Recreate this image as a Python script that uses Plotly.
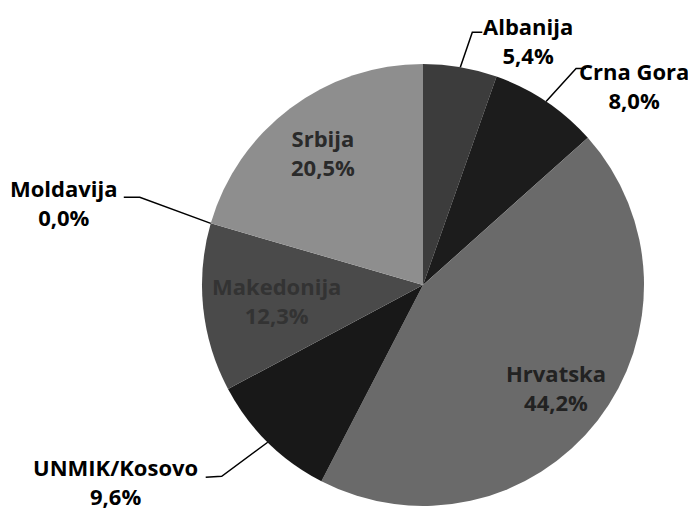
import math
import plotly.graph_objects as go

# ---- data ----
labels = ["Albanija", "Crna Gora", "Hrvatska", "UNMIK/Kosovo", "Makedonija", "Moldavija", "Srbija"]
values = [5.4, 8.0, 44.2, 9.6, 12.3, 0.0, 20.5]
pct_text = ["5,4%", "8,0%", "44,2%", "9,6%", "12,3%", "0,0%", "20,5%"]

# ---- style ----
colors = ["#3c3c3c", "#1c1c1c", "#6a6a6a", "#181818", "#4a4a4a", "#555555", "#8e8e8e"]
OFF = 8                      # page body margin
W, H = 688, 504
L, R, T, B = 194, 52, 56, 6
pw, ph = W - L - R, H - T - B
CX, CY = OFF + L + pw / 2, OFF + T + ph / 2   # page coordinates
RAD = min(pw, ph) / 2
FONT = "Open Sans"
FS = 22
HALF_LINE = 14.5             # half the line height of a two-line label

# inside labels: radial fraction, text colour
inside = {
    "Hrvatska": (0.76, "#222222"),
    "Makedonija": (0.665, "#333333"),
    "Srbija": (0.75, "#2a2a2a"),
}
# outside labels: elbow offset, end offset, first-line offset (from slice edge)
outside = {
    "Albanija": ((12, -35), (22, -35), (68, -41)),
    "Crna Gora": ((30, -33), (40, -33), (88, -30)),
    "Moldavija": ((-71, -26), (-87, -26), (-147, -35)),
    "UNMIK/Kosovo": ((-46, 34), (-62, 35), (-152, 25)),
}


def px(x):
    return (x - OFF - L) / pw


def py(y):
    return (H - B - (y - OFF)) / ph


fig = go.Figure(go.Pie(
    labels=labels, values=values, sort=False, direction="clockwise", rotation=0,
    marker=dict(colors=colors, line=dict(width=0)),
    textinfo="none", hoverinfo="label+percent", showlegend=False,
))

total = sum(values)
cum = 0.0
annotations, shapes = [], []
for lab, v, pt in zip(labels, values, pct_text):
    mid = (cum + v / 2) / total * 2 * math.pi
    cum += v
    s, c = math.sin(mid), math.cos(mid)
    if lab in inside:
        frac, col = inside[lab]
        x = CX + frac * RAD * s
        y = CY - frac * RAD * c
    elif lab in outside:
        (ex, ey), (nx, ny), (tx, ty) = outside[lab]
        col = "black"
        x0 = CX + RAD * s
        y0 = CY - RAD * c
        path = "M {} {} L {} {} L {} {}".format(px(x0), py(y0), px(x0 + ex), py(y0 + ey),
                                               px(x0 + nx), py(y0 + ny))
        shapes.append(dict(type="path", path=path, xref="paper", yref="paper",
                           line=dict(color="black", width=1.5)))
        x = x0 + tx
        y = y0 + ty + HALF_LINE
    else:
        continue
    annotations.append(dict(x=px(x), y=py(y), xref="paper", yref="paper",
                            text="{}<br>{}".format(lab, pt),
                            showarrow=False, xanchor="center", yanchor="middle", align="center",
                            font=dict(family=FONT, size=FS, color=col, weight="bold")))

fig.update_layout(
    width=W, height=H, margin=dict(l=L, r=R, t=T, b=B),
    paper_bgcolor="white", plot_bgcolor="white",
    annotations=annotations, shapes=shapes,
)
fig.write_html("out.html")
